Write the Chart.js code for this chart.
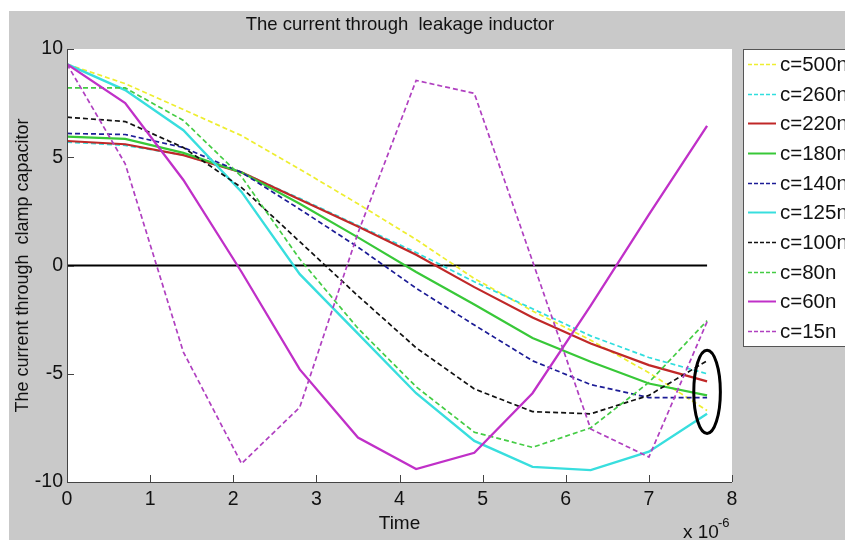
<!DOCTYPE html>
<html><head><meta charset="utf-8">
<script src="https://cdn.jsdelivr.net/npm/chart.js@4.4.1/dist/chart.umd.min.js"></script>
<style>html,body{margin:0;padding:0;background:#fff;overflow:hidden}canvas{display:block}</style>
</head><body>
<canvas id="c" width="845" height="540"></canvas>
<script>
// ---- data (time in units of 1e-6 s) ----
const timeUs = [0, 0.7, 1.4, 2.1, 2.8, 3.5, 4.2, 4.9, 5.6, 6.3, 7.0, 7.7];
const xTicks = [0, 1, 2, 3, 4, 5, 6, 7, 8];
const yTicks = [-10, -5, 0, 5, 10];
const seriesLabels = ['c=500n','c=260n','c=220n','c=180n','c=140n','c=125n','c=100n','c=80n','c=60n','c=15n'];
const c500 = [9.3, 8.4, 7.2, 6.0, 4.45, 2.85, 1.2, -0.6, -2.1, -3.45, -4.95, -6.7];
const c260 = [5.7, 5.55, 5.1, 4.3, 3.1, 1.85, 0.6, -0.75, -2.0, -3.25, -4.25, -5.0];
const c220 = [5.75, 5.6, 5.1, 4.3, 3.05, 1.8, 0.5, -1.0, -2.4, -3.6, -4.6, -5.35];
const c180 = [5.95, 5.85, 5.2, 4.3, 2.85, 1.3, -0.3, -1.8, -3.35, -4.45, -5.45, -6.0];
const c140 = [6.1, 6.05, 5.45, 4.3, 2.6, 0.85, -1.05, -2.75, -4.4, -5.5, -6.1, -6.1];
const c125 = [9.3, 8.1, 6.25, 3.4, -0.4, -3.15, -5.9, -8.1, -9.3, -9.45, -8.6, -6.85];
const c100 = [6.85, 6.65, 5.45, 3.6, 1.1, -1.4, -3.8, -5.7, -6.75, -6.85, -6.0, -4.4];
const c80  = [8.2, 8.2, 6.7, 4.1, 0.3, -2.9, -5.6, -7.7, -8.4, -7.5, -5.4, -2.55];
const c60  = [9.3, 7.5, 3.95, -0.3, -4.8, -7.95, -9.4, -8.65, -5.9, -1.85, 2.35, 6.45];
const c15  = [9.3, 4.7, -4.0, -9.15, -6.55, 1.5, 8.55, 7.95, 0.2, -7.55, -8.85, -2.6];
const zeroLineY = [0, 0];
const seriesValues = [c500, c260, c220, c180, c140, c125, c100, c80, c60, c15];

// ---- styles ----
const FONT = '"Liberation Sans", Arial, Helvetica, sans-serif';
const styles = [
  {color:'#eeee30', dash:[5,3], width:1.7},
  {color:'#30dede', dash:[5,3], width:1.7},
  {color:'#c02828', dash:[],    width:2.2},
  {color:'#38c838', dash:[],    width:2.2},
  {color:'#1c1c96', dash:[5,3], width:1.7},
  {color:'#38dede', dash:[],    width:2.4},
  {color:'#111111', dash:[5,3], width:1.7},
  {color:'#44cc44', dash:[5,3], width:1.7},
  {color:'#c030c8', dash:[],    width:2.3},
  {color:'#b040c0', dash:[5,3], width:1.7}
];
const ellipseMark = {x: 7.7, y: -5.84, rx: 0.16, ry: 1.92};

const datasets = seriesValues.map((vals, i) => ({
  label: seriesLabels[i],
  data: timeUs.map((t, k) => ({x: t, y: vals[k]})),
  borderColor: styles[i].color,
  borderDash: styles[i].dash,
  borderWidth: styles[i].width,
  fill: false, pointRadius: 0, tension: 0,
  order: seriesValues.length - i
}));
datasets.push({
  label: 'zero',
  data: [{x: timeUs[0], y: zeroLineY[0]}, {x: timeUs[timeUs.length-1], y: zeroLineY[1]}],
  borderColor: '#000', borderWidth: 2, pointRadius: 0, fill: false,
  order: 100, isZero: true
});

const bgPlugin = {
  id: 'bg',
  beforeDraw(chart) {
    const {ctx, chartArea: a} = chart;
    ctx.save();
    ctx.fillStyle = '#ffffff';
    ctx.fillRect(0, 0, chart.width, chart.height);
    ctx.fillStyle = '#c9c9c9';
    ctx.fillRect(9, 11, chart.width - 9, chart.height - 11);
    ctx.fillStyle = '#ffffff';
    ctx.fillRect(a.left, a.top, a.right - a.left, a.bottom - a.top);
    // title
    ctx.fillStyle = '#111';
    ctx.font = '18.5px ' + FONT;
    ctx.textAlign = 'center';
    ctx.textBaseline = 'alphabetic';
    ctx.fillText('The current through  leakage inductor', (a.left + a.right) / 2 + 0.5, 30);
    ctx.restore();
  }
};

const axesPlugin = {
  id: 'axesMarks',
  afterDatasetsDraw(chart) {
    const {ctx, chartArea: a, scales: {x, y}} = chart;
    ctx.save();
    ctx.strokeStyle = '#444';
    ctx.lineWidth = 1;
    ctx.beginPath();
    ctx.moveTo(a.left + 0.5, a.top);
    ctx.lineTo(a.left + 0.5, a.bottom + 0.5);
    ctx.lineTo(a.right, a.bottom + 0.5);
    xTicks.forEach(v => {
      const px = Math.round(x.getPixelForValue(v)) + 0.5;
      ctx.moveTo(px, a.bottom);
      ctx.lineTo(px, a.bottom - 7);
    });
    yTicks.forEach(v => {
      const py = Math.round(y.getPixelForValue(v)) + 0.5;
      ctx.moveTo(a.left, py);
      ctx.lineTo(a.left + 7, py);
    });
    ctx.stroke();
    // exponent label
    ctx.fillStyle = '#111';
    ctx.textBaseline = 'alphabetic';
    ctx.textAlign = 'left';
    ctx.font = '19px ' + FONT;
    ctx.fillText('x 10', 683, 538);
    ctx.font = '13px ' + FONT;
    ctx.fillText('-6', 718, 527);
    // ellipse annotation
    const cx = x.getPixelForValue(ellipseMark.x);
    const cy = y.getPixelForValue(ellipseMark.y);
    const rx = Math.abs(x.getPixelForValue(ellipseMark.x + ellipseMark.rx) - cx);
    const ry = Math.abs(y.getPixelForValue(ellipseMark.y + ellipseMark.ry) - cy);
    ctx.strokeStyle = '#000';
    ctx.lineWidth = 3;
    ctx.beginPath();
    ctx.ellipse(cx, cy, rx, ry, 0, 0, Math.PI * 2);
    ctx.stroke();
    ctx.restore();
  }
};

const legendPlugin = {
  id: 'matLegend',
  afterDraw(chart) {
    const {ctx} = chart;
    const left = 743, top = 49, bottom = 346;
    ctx.save();
    ctx.fillStyle = '#fff';
    ctx.fillRect(left, top, chart.width - left + 5, bottom - top);
    ctx.strokeStyle = '#555';
    ctx.lineWidth = 1;
    ctx.strokeRect(left + 0.5, top + 0.5, chart.width - left + 5, bottom - top);
    const step = (bottom - top) / seriesLabels.length;
    chart.data.datasets.forEach((ds, i) => {
      if (ds.isZero) return;
      const cy = Math.round(top + step * (i + 0.5)) + 0.5;
      ctx.strokeStyle = ds.borderColor;
      ctx.lineWidth = Math.min(ds.borderWidth, 2);
      ctx.setLineDash(ds.borderDash.length ? [4, 2] : []);
      ctx.beginPath();
      ctx.moveTo(748, cy);
      ctx.lineTo(776, cy);
      ctx.stroke();
      ctx.setLineDash([]);
      ctx.fillStyle = '#111';
      ctx.font = '20.5px ' + FONT;
      ctx.textAlign = 'left';
      ctx.textBaseline = 'middle';
      ctx.fillText(ds.label, 780, cy + 1);
    });
    ctx.restore();
  }
};

new Chart(document.getElementById('c'), {
  type: 'line',
  data: {datasets},
  options: {
    responsive: false, animation: false, devicePixelRatio: 1,
    layout: {padding: {left: 0, top: 49, right: 113, bottom: 0}},
    plugins: {legend: {display: false}, title: {display: false}, tooltip: {enabled: false}},
    scales: {
      x: {
        type: 'linear', min: 0, max: 8,
        afterBuildTicks: s => { s.ticks = xTicks.map(v => ({value: v})); },
        ticks: {font: {family: FONT, size: 19.5}, color: '#111', padding: 6, maxRotation: 0, autoSkip: false},
        grid: {display: false, drawTicks: false},
        border: {display: false},
        title: {display: true, text: 'Time', color: '#111', font: {family: FONT, size: 19}, padding: {top: 0, bottom: 5}},
        afterFit: s => { s.height = 58; }
      },
      y: {
        type: 'linear', min: -10, max: 10,
        afterBuildTicks: s => { s.ticks = yTicks.map(v => ({value: v})); },
        ticks: {font: {family: FONT, size: 19.5}, color: '#111', padding: 4, autoSkip: false},
        grid: {display: false, drawTicks: false},
        border: {display: false},
        title: {display: true, text: 'The current through  clamp capacitor', color: '#111', font: {family: FONT, size: 18}, padding: {top: 12, bottom: 0}},
        afterFit: s => { s.width = 67; }
      }
    }
  },
  plugins: [bgPlugin, axesPlugin, legendPlugin]
});
</script>
</body></html>
